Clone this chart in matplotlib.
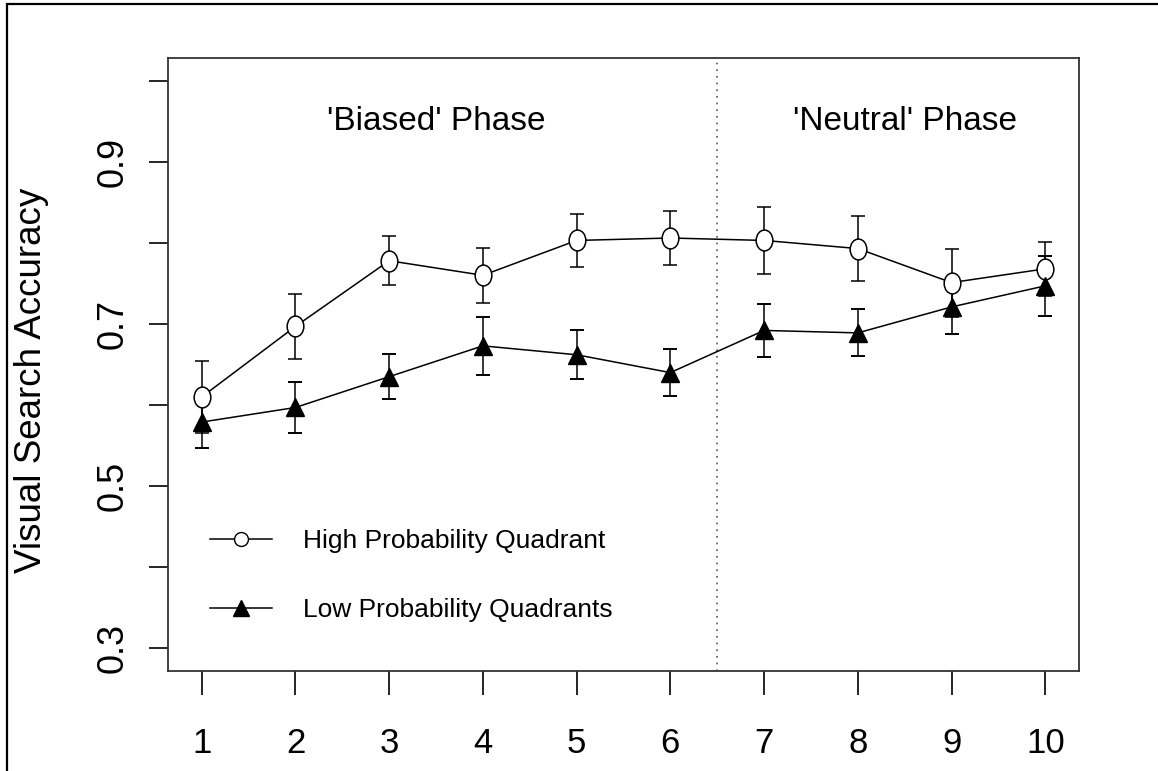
import matplotlib
matplotlib.use("Agg")
import matplotlib.pyplot as plt
from matplotlib import font_manager
from matplotlib.path import Path
from matplotlib.transforms import Affine2D
from matplotlib.lines import Line2D
from matplotlib.patches import Rectangle

# visual search accuracy per block, mean and error bar half-width
blocks = [1, 2, 3, 4, 5, 6, 7, 8, 9, 10]
high_prob = [0.610, 0.697, 0.778, 0.760, 0.803, 0.806, 0.803, 0.793, 0.751, 0.768]
high_err = [0.044, 0.040, 0.030, 0.034, 0.033, 0.033, 0.041, 0.040, 0.042, 0.033]
low_prob = [0.579, 0.597, 0.635, 0.673, 0.662, 0.640, 0.692, 0.689, 0.721, 0.747]
low_err = [0.032, 0.032, 0.028, 0.036, 0.030, 0.029, 0.033, 0.029, 0.034, 0.037]

y_ticks = [0.3, 0.4, 0.5, 0.6, 0.7, 0.8, 0.9, 1.0]
y_labels = ["0.3", "", "0.5", "", "0.7", "", "0.9", ""]
phase_split = 6.5
phase_names = ["'Biased' Phase", "'Neutral' Phase"]
series_names = ["High Probability Quadrant", "Low Probability Quadrants"]

plt.rcParams["font.family"] = ["Liberation Sans", "DejaVu Sans"]


def has_font(name):
    try:
        font_manager.findfont(name, fallback_to_default=False)
        return True
    except ValueError:
        return False


narrow = "Liberation Sans Narrow" if has_font("Liberation Sans Narrow") else "Liberation Sans"
legend_size = 23 if narrow == "Liberation Sans Narrow" else 19

# slightly tall open circle like the R pch=1 on this device
ellipse = Path.unit_circle().transformed(Affine2D().scale(0.8, 1.0))

fig = plt.figure(figsize=(11.58, 7.71), dpi=100)
fig.patches.append(Rectangle((7 / 1158, -0.05), 1.2, 1 - 4 / 771 + 0.05,
                             transform=fig.transFigure, fill=False,
                             edgecolor="black", linewidth=1.6))

ax = fig.add_axes([168 / 1158, 1 - 671 / 771, 911 / 1158, 613 / 771])

ax.axvline(phase_split, color="#555555", linestyle=(0, (1, 3)), linewidth=1.2)

ax.errorbar(blocks, high_prob, yerr=high_err, color="black", linewidth=1.1,
            marker=ellipse, markersize=15, markerfacecolor="white",
            markeredgecolor="black", markeredgewidth=1.1,
            ecolor="black", elinewidth=1.1, capsize=4.8, capthick=1.4)
ax.errorbar(blocks, low_prob, yerr=low_err, color="black", linewidth=1.1,
            marker="^", markersize=13.5, markerfacecolor="black",
            markeredgecolor="black",
            ecolor="black", elinewidth=1.1, capsize=4.8, capthick=1.4)

ax.set_xlim(0.64, 10.36)
ax.set_ylim(0.272, 1.028)
ax.set_xticks(blocks)
ax.set_xticklabels([str(b) for b in blocks], fontsize=25)
ax.set_yticks(y_ticks)
ax.set_yticklabels(y_labels, fontsize=26, rotation=90, va="center")
ax.tick_params(axis="x", length=17, width=1.2, pad=23)
ax.tick_params(axis="y", length=14, width=1.2, pad=13)
for s in ax.spines.values():
    s.set_linewidth(1.3)
    s.set_color("#333333")

ax.text(3.5, 0.95, phase_names[0], fontsize=24, ha="center", va="center")
ax.text(8.5, 0.95, phase_names[1], fontsize=24, ha="center", va="center")

fig.text(32 / 1158, 1 - 380 / 771, "Visual Search Accuracy", fontsize=26.5,
         rotation=90, ha="center", va="center")

handles = [
    Line2D([], [], color="black", linewidth=1.1, marker="o", markersize=10,
           markerfacecolor="white", markeredgecolor="black"),
    Line2D([], [], color="black", linewidth=1.1, marker="^", markersize=11,
           markerfacecolor="black", markeredgecolor="black"),
]
ax.legend(handles, series_names, loc="upper left",
          bbox_to_anchor=(42 / 911, 142 / 613), frameon=False,
          borderpad=0, borderaxespad=0, handlelength=2.35,
          handletextpad=1.17, labelspacing=1.72,
          prop={"family": narrow, "size": legend_size})

fig.savefig("out.png", dpi=100)
